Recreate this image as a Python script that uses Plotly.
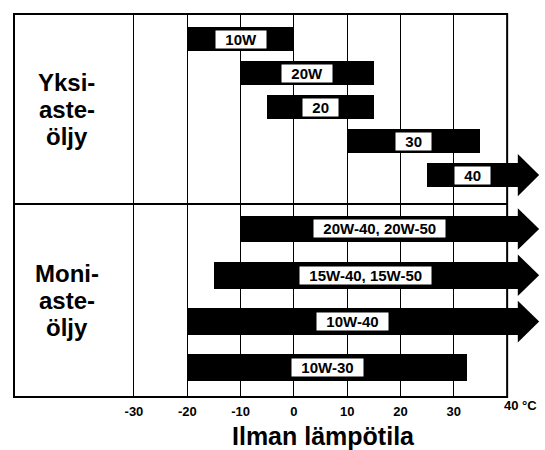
import plotly.graph_objects as go
from plotly.subplots import make_subplots

# Yksiasteöljyt: viskositeettiluokka ja käyttölämpötila-alue (°C)
single_grades = ["10W", "20W", "20", "30", "40"]
single_from = [-20, -10, -5, 10, 25]
single_to = [0, 15, 15, 35, None]  # None = ei ylärajaa (nuoli)

# Moniasteöljyt
multi_grades = ["20W-40, 20W-50", "15W-40, 15W-50", "10W-40", "10W-30"]
multi_from = [-10, -15, -20, -20]
multi_to = [None, None, None, 32.5]

temp_ticks = [-30, -20, -10, 0, 10, 20, 30]
section_labels = [["Yksi-", "aste-", "öljy"], ["Moni-", "aste-", "öljy"]]
axis_title = "Ilman lämpötila"
last_tick = "40 °C"

FONT = "Liberation Sans, Arial, sans-serif"
FRAME_LEFT, FRAME_RIGHT = -52.5, 40
X_RANGE = [-52.875, 47.1]
ARROW_BASE, ARROW_TIP = 42, 46


fig = make_subplots(rows=2, cols=1, shared_xaxes=True, vertical_spacing=0)


def add_section(row, grades, starts, ends, bar_width, head_half):
    stops = [ARROW_BASE if e is None else e for e in ends]
    idx = list(range(len(grades)))
    fig.add_trace(
        go.Bar(
            orientation="h", y=idx, base=starts,
            x=[b - a for a, b in zip(starts, stops)],
            width=bar_width,
            marker=dict(color="black", line_width=0),
            hoverinfo="skip", showlegend=False,
        ),
        row=row, col=1,
    )
    for i, grade in enumerate(grades):
        if ends[i] is None:
            # open-ended range -> arrow head
            fig.add_trace(
                go.Scatter(
                    x=[ARROW_BASE, ARROW_TIP, ARROW_BASE, ARROW_BASE],
                    y=[i - head_half, i, i + head_half, i - head_half],
                    mode="lines", fill="toself", fillcolor="black",
                    line=dict(color="black", width=0),
                    hoverinfo="skip", showlegend=False,
                ),
                row=row, col=1,
            )
        fig.add_annotation(
            x=(starts[i] + stops[i]) / 2, y=i,
            text=f"&nbsp;&nbsp;<b>{grade}</b>&nbsp;&nbsp;",
            showarrow=False, bgcolor="white", borderpad=1, height=15,
            font=dict(family=FONT, size=15, color="black"),
            row=row, col=1,
        )


add_section(1, single_grades, single_from, single_to, 0.71, 0.62)
add_section(2, multi_grades, multi_from, multi_to, 0.58, 0.45)

# section titles in the left column
for yref, lines in zip(["y domain", "y2 domain"], section_labels):
    for j, line in enumerate(lines):
        fig.add_annotation(
            x=-42.6, xref="x", y=0.5, yref=yref, yshift=27 * (1 - j),
            text=f"<b>{line}</b>", showarrow=False,
            font=dict(family=FONT, size=24, color="black"),
        )

# frame + divider
fig.add_shape(type="rect", xref="x2", yref="paper", x0=FRAME_LEFT, x1=FRAME_RIGHT,
              y0=2 / 387, y1=1 - 2 / 387, line=dict(color="black", width=2), layer="above")
fig.add_shape(type="line", xref="x2", yref="y domain", x0=FRAME_LEFT, x1=FRAME_RIGHT,
              y0=0, y1=0, line=dict(color="black", width=2), layer="above")

fig.add_annotation(
    x=FRAME_RIGHT, xref="x2", xanchor="left", xshift=-5,
    y=(399 - 405) / 387, yref="paper", yanchor="middle",
    text=f"<b>{last_tick}</b>", showarrow=False,
    font=dict(family=FONT, size=13, color="black"),
)
fig.add_annotation(
    x=5.5, xref="x2", y=(399 - 436) / 387, yref="paper", yanchor="middle",
    text=f"<b>{axis_title}</b>", showarrow=False,
    font=dict(family=FONT, size=25, color="black"),
)

axis_common = dict(
    range=X_RANGE, tickvals=temp_ticks, showgrid=True, gridcolor="black",
    gridwidth=1, zeroline=False, showline=False, ticks="",
)
fig.update_xaxes(**axis_common)
fig.update_xaxes(showticklabels=False, row=1, col=1)
fig.update_xaxes(
    ticktext=[f"<b>{t}</b>" for t in temp_ticks],
    tickfont=dict(family=FONT, size=13, color="black"),
    ticklabelstandoff=5,
    row=2, col=1,
)
fig.update_yaxes(showticklabels=False, showgrid=False, zeroline=False, ticks="")
fig.update_yaxes(range=[4.85, -0.735], domain=[(399 - 204) / 387, 1 - 2 / 387], row=1, col=1)
fig.update_yaxes(range=[3.63, -0.54], domain=[2 / 387, (399 - 204) / 387], row=2, col=1)

fig.update_layout(
    width=545, height=450,
    margin=dict(l=12, r=0, t=12, b=51),
    paper_bgcolor="white", plot_bgcolor="white",
    font=dict(family=FONT, color="black"),
    bargap=0,
)

fig.write_html("out.html", config={"displayModeBar": False},
               post_script="document.body.style.margin='0';")
